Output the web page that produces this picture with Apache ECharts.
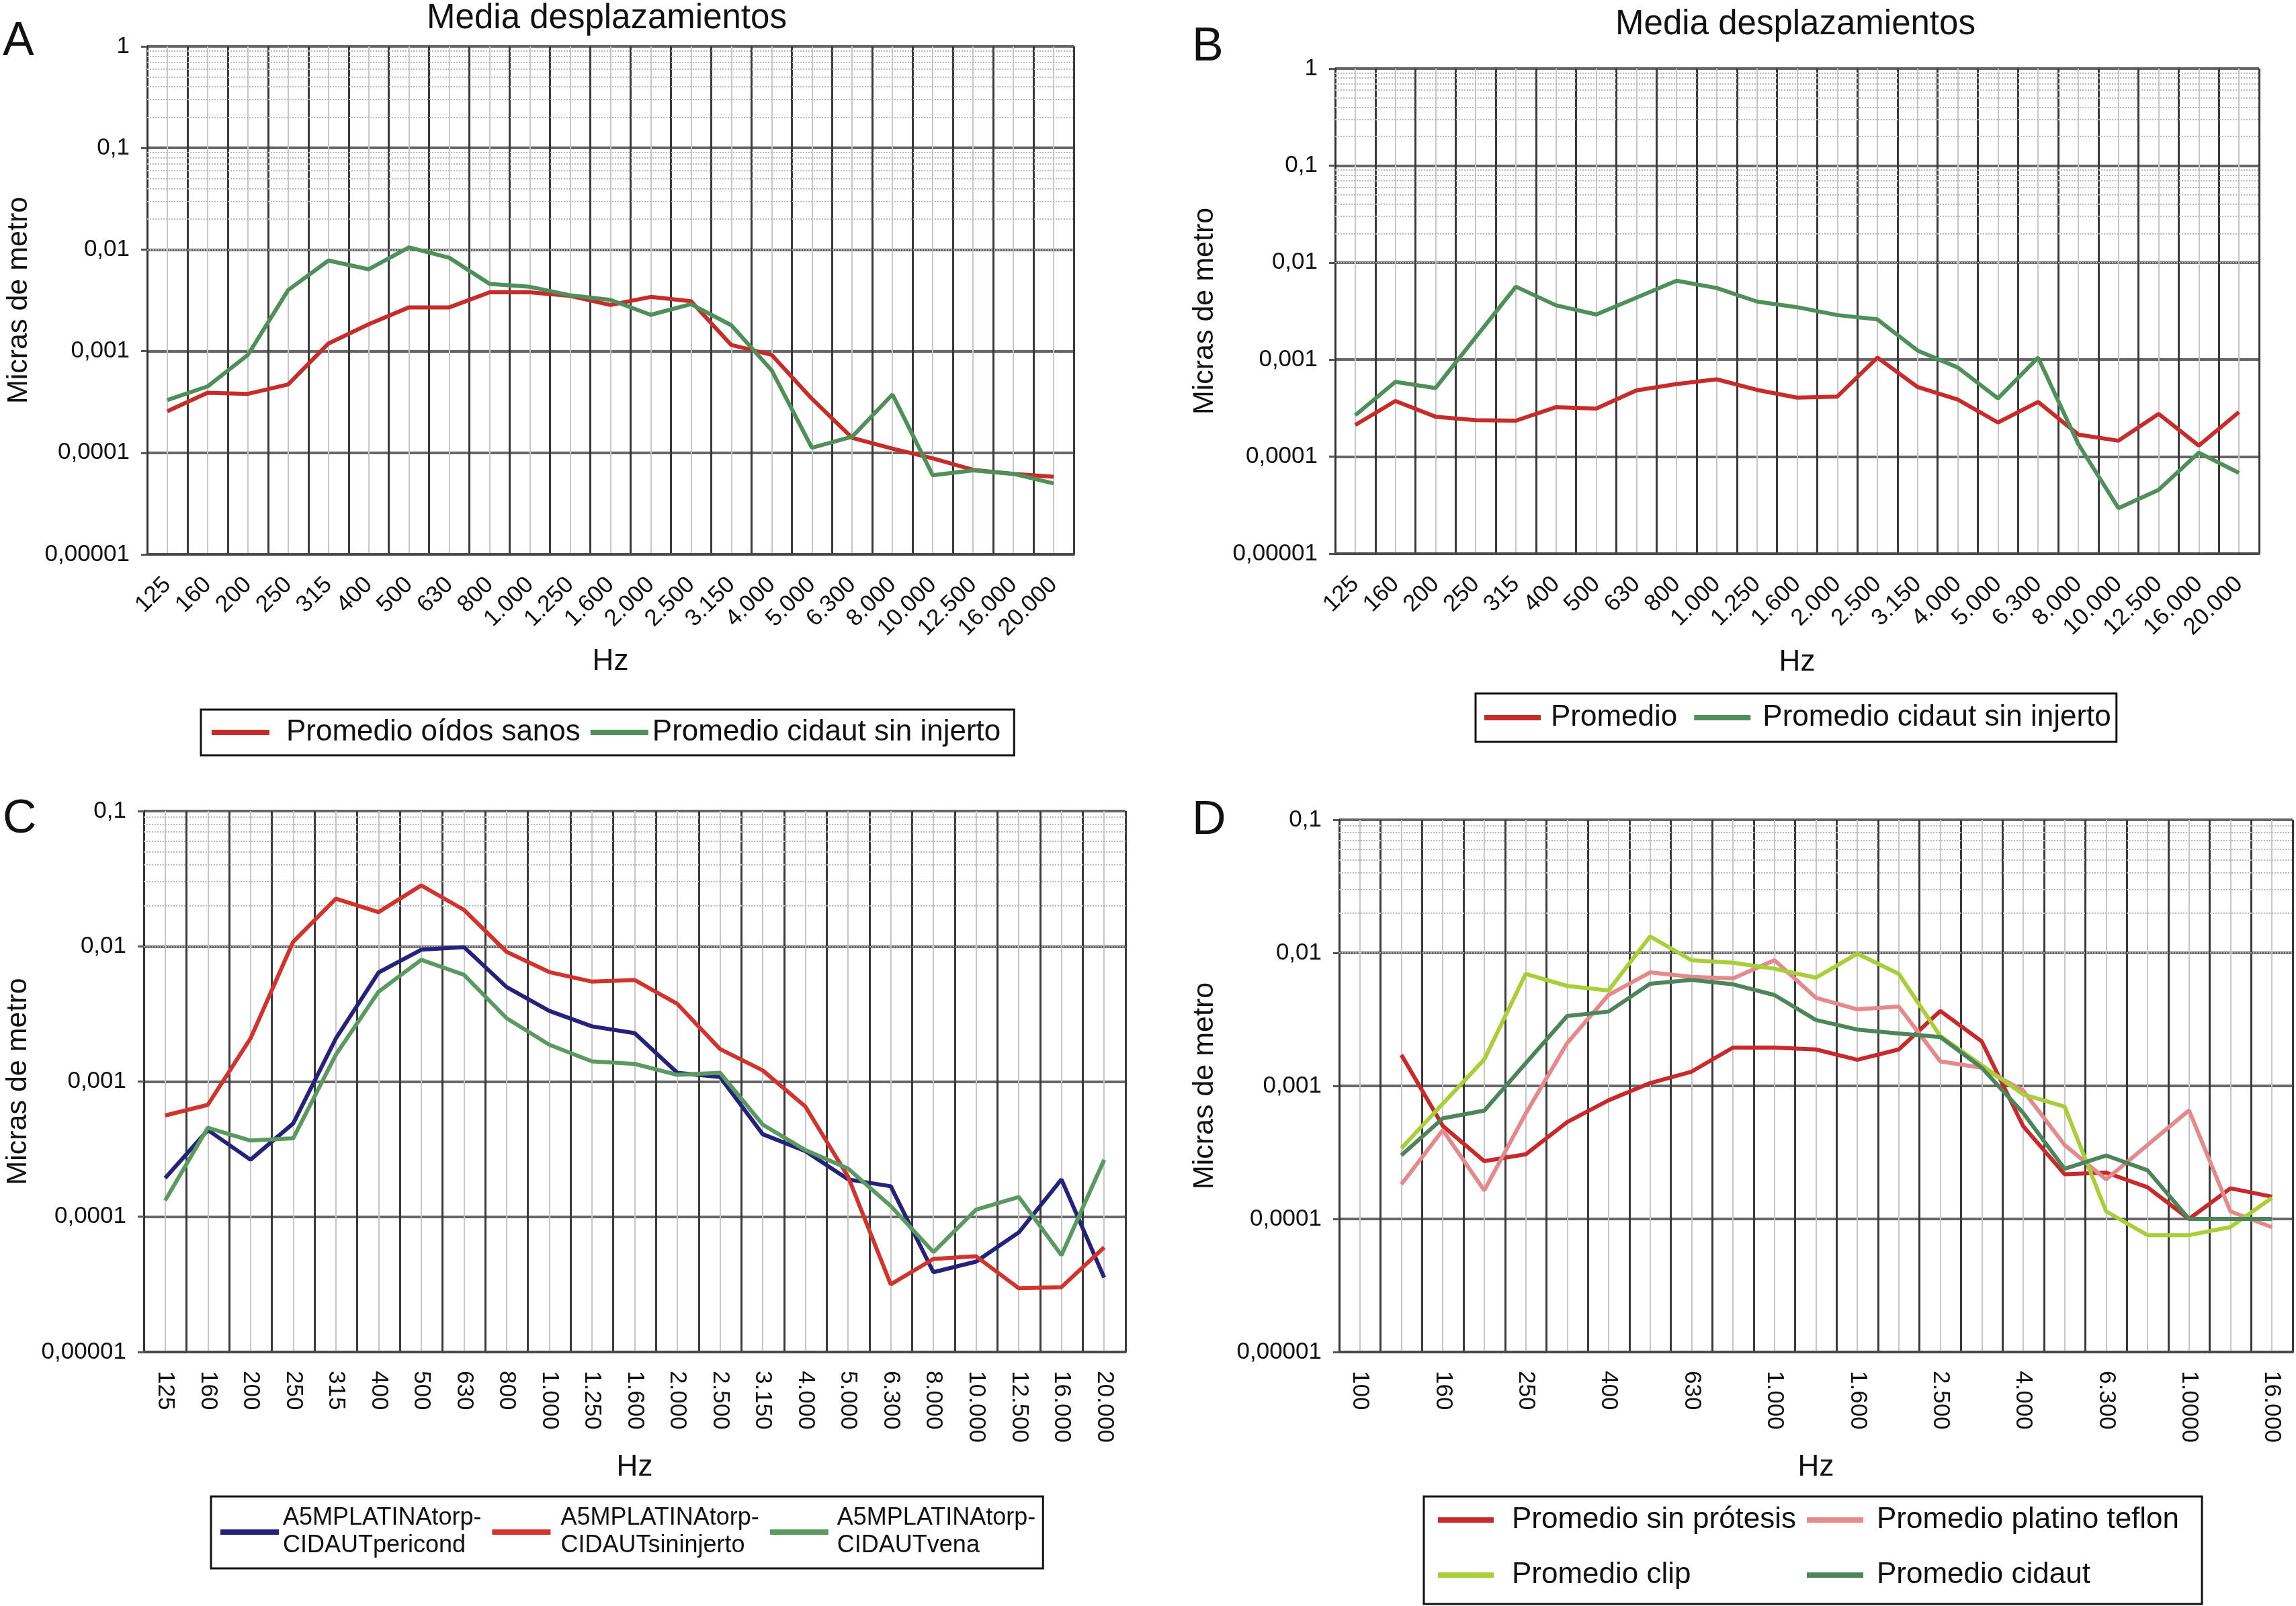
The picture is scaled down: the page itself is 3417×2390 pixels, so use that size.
<!DOCTYPE html>
<html>
<head>
<meta charset="utf-8">
<script src="https://cdn.jsdelivr.net/npm/echarts@6.0.0/dist/echarts.min.js"></script>
<style>html,body{margin:0;padding:0;background:#fff}#c{width:3417px;height:2390px}</style>
</head>
<body>
<div id="c"></div>
<script>
// ---------- categories / tick labels ----------
const freqLabels = ['125','160','200','250','315','400','500','630','800','1.000','1.250','1.600','2.000','2.500','3.150','4.000','5.000','6.300','8.000','10.000','12.500','16.000','20.000'];
const freqLabelsD = ['100','125','160','200','250','315','400','500','630','800','1.000','1.250','1.600','2.000','2.500','3.150','4.000','5.000','6.300','8.000','1.0000','12.500','16.000'];
const yTickExponents = [-5,-4,-3,-2,-1,0];
const yTickLabels = ['0,00001','0,0001','0,001','0,01','0,1','1'];

// ---------- panel A ----------
const aSanos  = [2.56e-4,3.9e-4,3.8e-4,4.7e-4,1.19e-3,1.84e-3,2.7e-3,2.7e-3,3.8e-3,3.8e-3,3.5e-3,2.85e-3,3.42e-3,3.1e-3,1.15e-3,9.2e-4,3.4e-4,1.4e-4,1.1e-4,8.8e-5,6.8e-5,6.2e-5,5.8e-5];
const aCidaut = [3.3e-4,4.5e-4,9.2e-4,4.0e-3,7.8e-3,6.4e-3,1.05e-2,8.3e-3,4.6e-3,4.3e-3,3.55e-3,3.2e-3,2.28e-3,2.9e-3,1.8e-3,6.5e-4,1.12e-4,1.44e-4,3.75e-4,6.0e-5,6.7e-5,6.2e-5,5.0e-5];
// ---------- panel B ----------
const bPromedio = [2.12e-4,3.75e-4,2.58e-4,2.38e-4,2.35e-4,3.24e-4,3.13e-4,4.82e-4,5.6e-4,6.27e-4,4.88e-4,4.06e-4,4.16e-4,1.05e-3,5.22e-4,3.88e-4,2.25e-4,3.67e-4,1.69e-4,1.46e-4,2.76e-4,1.3e-4,2.88e-4];
const bCidaut   = [2.67e-4,5.9e-4,5.1e-4,1.7e-3,5.65e-3,3.63e-3,2.92e-3,4.35e-3,6.5e-3,5.47e-3,3.97e-3,3.47e-3,2.88e-3,2.6e-3,1.24e-3,8.3e-4,3.98e-4,1.05e-3,1.35e-4,2.95e-5,4.55e-5,1.1e-4,6.8e-5];
// ---------- panel C ----------
const cPericond   = [1.93e-4,4.38e-4,2.64e-4,4.9e-4,2.08e-3,6.4e-3,9.44e-3,9.87e-3,5.0e-3,3.33e-3,2.56e-3,2.28e-3,1.16e-3,1.08e-3,4.08e-4,3.06e-4,1.89e-4,1.68e-4,3.89e-5,4.66e-5,7.66e-5,1.89e-4,3.55e-5];
const cSininjerto = [5.61e-4,6.72e-4,2.08e-3,1.08e-2,2.25e-2,1.79e-2,2.82e-2,1.86e-2,9.1e-3,6.45e-3,5.48e-3,5.63e-3,3.75e-3,1.74e-3,1.21e-3,6.53e-4,1.98e-4,3.16e-5,4.88e-5,5.1e-5,2.96e-5,3.02e-5,5.94e-5];
const cVena       = [1.32e-4,4.55e-4,3.66e-4,3.8e-4,1.58e-3,4.61e-3,7.94e-3,6.16e-3,2.94e-3,1.87e-3,1.41e-3,1.35e-3,1.12e-3,1.16e-3,4.81e-4,3.11e-4,2.27e-4,1.2e-4,5.48e-5,1.13e-4,1.4e-4,5.19e-5,2.64e-4];
// ---------- panel D ----------
const dSinProtesis = [null,1.71e-3,5.0e-4,2.72e-4,3.06e-4,5.35e-4,7.8e-4,1.05e-3,1.28e-3,1.94e-3,1.94e-3,1.88e-3,1.57e-3,1.88e-3,3.66e-3,2.16e-3,4.98e-4,2.17e-4,2.23e-4,1.73e-4,1.0e-4,1.7e-4,1.47e-4];
const dPlatino     = [null,1.82e-4,4.65e-4,1.64e-4,6.2e-4,2.1e-3,4.83e-3,7.13e-3,6.6e-3,6.43e-3,8.8e-3,4.6e-3,3.76e-3,3.94e-3,1.53e-3,1.37e-3,9.2e-4,3.6e-4,1.98e-4,3.6e-4,6.55e-4,1.14e-4,8.67e-5];
const dClip        = [null,3.4e-4,7.35e-4,1.58e-3,6.95e-3,5.64e-3,5.22e-3,1.33e-2,8.8e-3,8.42e-3,7.6e-3,6.5e-3,9.86e-3,6.95e-3,2.37e-3,1.43e-3,8.63e-4,6.98e-4,1.14e-4,7.55e-5,7.55e-5,8.7e-5,1.44e-4];
const dCidaut      = [null,3.01e-4,5.71e-4,6.52e-4,1.48e-3,3.35e-3,3.62e-3,5.85e-3,6.26e-3,5.8e-3,4.82e-3,3.13e-3,2.65e-3,2.48e-3,2.33e-3,1.37e-3,6.26e-4,2.38e-4,3.0e-4,2.32e-4,1.0e-4,1.0e-4,1.0e-4];

// ---------- styling helpers ----------
const FONT = 'Liberation Sans, Arial, Helvetica, sans-serif';
const TXT = '#111';

function yLabel(v){
  const e = Math.round(Math.log10(v));
  const i = yTickExponents.indexOf(e);
  return i >= 0 ? yTickLabels[i] : '';
}
// Excel-like minor gridlines (2..9 within each decade), positioned by the log axis
function minorLogLines(minExp, maxExp){
  const out = [];
  for (let e = minExp; e < maxExp; e++) {
    for (let k = 2; k <= 9; k++) out.push({yAxis: k * Math.pow(10, e)});
  }
  return out;
}

const panels = [
  {grid:{left:219, top:69, width:1379, height:756}, cats:freqLabels, rotate:45, labelInterval:0, labelMargin:40,
   nameGapX:138, nameGapY:169, ymin:1e-5, ymax:1, minExp:-5, maxExp:0},
  {grid:{left:1987, top:102, width:1375, height:722}, cats:freqLabels, rotate:45, labelInterval:0, labelMargin:40,
   nameGapX:140, nameGapY:172, ymin:1e-5, ymax:1, minExp:-5, maxExp:0},
  {grid:{left:214, top:1207, width:1461, height:805}, cats:freqLabels, rotate:-90, labelInterval:0, labelMargin:28,
   nameGapX:150, nameGapY:165, ymin:1e-5, ymax:0.1, minExp:-5, maxExp:-1},
  {grid:{left:1993, top:1220, width:1419, height:792}, cats:freqLabelsD, rotate:-90, labelInterval:1, labelMargin:28,
   nameGapX:150, nameGapY:178, ymin:1e-5, ymax:0.1, minExp:-5, maxExp:-1}
];

const grids = [], xAxes = [], yAxes = [], series = [];
panels.forEach((p, i) => {
  grids.push(Object.assign({outerBoundsMode:'none', containLabel:false}, p.grid));
  // category axis: labels + data
  xAxes.push({
    type:'category', gridIndex:i, data:p.cats, boundaryGap:true,
    name:'Hz', nameLocation:'middle', nameGap:p.nameGapX,
    nameTextStyle:{fontSize:44, color:TXT, fontFamily:FONT},
    axisLine:{show:true, onZero:false, lineStyle:{color:'#4a4a4a', width:4}},
    axisTick:{show:false}, splitLine:{show:false},
    axisLabel:{interval:p.labelInterval, rotate:p.rotate, margin:p.labelMargin, fontSize:35, color:TXT, fontFamily:FONT, hideOverlap:false}
  });
  // value axis used only for the grid: boundaries (major) and centres (minor)
  xAxes.push({
    type:'value', gridIndex:i, min:0, max:p.cats.length, interval:1,
    axisLine:{show:false}, axisTick:{show:false}, axisLabel:{show:false},
    splitLine:{show:true, lineStyle:{color:'#3a3a3a', width:3}},
    minorTick:{show:false, splitNumber:2},
    minorSplitLine:{show:true, lineStyle:{color:'#c6c6c6', width:2}}
  });
  yAxes.push({
    type:'log', logBase:10, gridIndex:i, min:p.ymin, max:p.ymax, splitNumber:p.maxExp - p.minExp,
    name:'Micras de metro', nameLocation:'middle', nameGap:p.nameGapY,
    nameTextStyle:{fontSize:43, color:TXT, fontFamily:FONT},
    axisLine:{show:true, onZero:false, lineStyle:{color:'#333', width:3}},
    axisTick:{show:true, length:9, lineStyle:{color:'#555', width:3}},
    splitLine:{show:true, lineStyle:{color:'#666', width:4}},
    axisLabel:{fontSize:35, color:TXT, fontFamily:FONT, margin:26, formatter:yLabel}
  });
  series.push({
    type:'line', name:'_grid' + i, xAxisIndex:2*i, yAxisIndex:i, data:[], silent:true, z:1,
    markLine:{silent:true, symbol:['none','none'], label:{show:false}, animation:false,
      lineStyle:{color:'#b9b9b9', width:2, type:'dotted'}, emphasis:{disabled:true},
      data:minorLogLines(p.minExp, p.maxExp)}
  });
});

function line(name, data, color, panel){
  return {type:'line', name, data, xAxisIndex:2*panel, yAxisIndex:panel, symbol:'none', z:5,
    lineStyle:{width:6, color}, itemStyle:{color}, emphasis:{disabled:true}, connectNulls:false};
}
series.push(line('Promedio oídos sanos', aSanos, '#c62d2a', 0));
series.push(line('Promedio cidaut sin injerto', aCidaut, '#4f8f5a', 0));
series.push(line('Promedio', bPromedio, '#c62d2a', 1));
series.push(line('Promedio cidaut sin injerto ', bCidaut, '#4f8f5a', 1));
series.push(line('A5MPLATINAtorp-\nCIDAUTpericond', cPericond, '#24227a', 2));
series.push(line('A5MPLATINAtorp-\nCIDAUTsininjerto', cSininjerto, '#d0342c', 2));
series.push(line('A5MPLATINAtorp-\nCIDAUTvena', cVena, '#5a9a60', 2));
series.push(line('Promedio sin prótesis', dSinProtesis, '#c8292b', 3));
series.push(line('Promedio platino teflon', dPlatino, '#e48a8c', 3));
series.push(line('Promedio clip', dClip, '#a8cf38', 3));
series.push(line('Promedio cidaut', dCidaut, '#4b8559', 3));

const legendBase = {icon:'rect', itemHeight:8, selectedMode:false, borderColor:'#111', borderWidth:3,
  textStyle:{fontSize:44, color:TXT, fontFamily:FONT}};

const legends = [
  Object.assign({}, legendBase, {left:299, top:1056, padding:[12,20,12,16], itemGap:15, itemWidth:86,
    data:[{name:'Promedio oídos sanos', textStyle:{padding:[0,0,0,20]}},
          {name:'Promedio cidaut sin injerto', textStyle:{padding:[0,0,0,1]}}]}),
  Object.assign({}, legendBase, {left:2196, top:1032, padding:[14,8,14,13], itemGap:25, itemWidth:84,
    data:[{name:'Promedio', textStyle:{padding:[0,0,0,10]}},
          {name:'Promedio cidaut sin injerto ', textStyle:{padding:[0,0,0,13]}}],
    formatter: n => n.trim()}),
  Object.assign({}, legendBase, {left:314, top:2227, padding:[12,11,13,14], itemGap:16, itemWidth:87,
    textStyle:{fontSize:36, lineHeight:41, color:TXT, fontFamily:FONT},
    data:[{name:'A5MPLATINAtorp-\nCIDAUTpericond', textStyle:{padding:[0,0,0,1]}},
          {name:'A5MPLATINAtorp-\nCIDAUTsininjerto', textStyle:{padding:[0,0,0,10]}},
          {name:'A5MPLATINAtorp-\nCIDAUTvena', textStyle:{padding:[0,0,0,8]}}]}),
  Object.assign({}, legendBase, {left:2119, top:2227, orient:'vertical', padding:[13,604,21,21], itemGap:38, itemWidth:83,
    data:[{name:'Promedio sin prótesis', textStyle:{padding:[0,0,0,22]}},
          {name:'Promedio clip', textStyle:{padding:[0,0,0,22]}}]}),
  Object.assign({}, legendBase, {left:2689, top:2240, orient:'vertical', padding:0, borderWidth:0, itemGap:38, itemWidth:84,
    data:[{name:'Promedio platino teflon', textStyle:{padding:[0,0,0,15]}},
          {name:'Promedio cidaut', textStyle:{padding:[0,0,0,15]}}]})
];

const titleStyle = {fontSize:51, fontWeight:'normal', color:TXT, fontFamily:FONT};
const letterStyle = {fontSize:70, fontWeight:'normal', color:TXT, fontFamily:FONT};
const titles = [
  {text:'Media desplazamientos', left:903, top:2, textAlign:'center', padding:0, textStyle:titleStyle},
  {text:'Media desplazamientos', left:2672, top:11, textAlign:'center', padding:0, textStyle:titleStyle},
  {text:'A', left:4, top:28, padding:0, textStyle:letterStyle},
  {text:'B', left:1774, top:36, padding:0, textStyle:letterStyle},
  {text:'C', left:4, top:1185, padding:0, textStyle:letterStyle},
  {text:'D', left:1774, top:1187, padding:0, textStyle:letterStyle}
];

const chart = echarts.init(document.getElementById('c'), null, {width:3417, height:2390});
chart.setOption({
  animation:false,
  backgroundColor:'#ffffff',
  textStyle:{fontFamily:FONT},
  title:titles,
  legend:legends,
  grid:grids,
  xAxis:xAxes,
  yAxis:yAxes,
  series:series
});
</script>
</body>
</html>
